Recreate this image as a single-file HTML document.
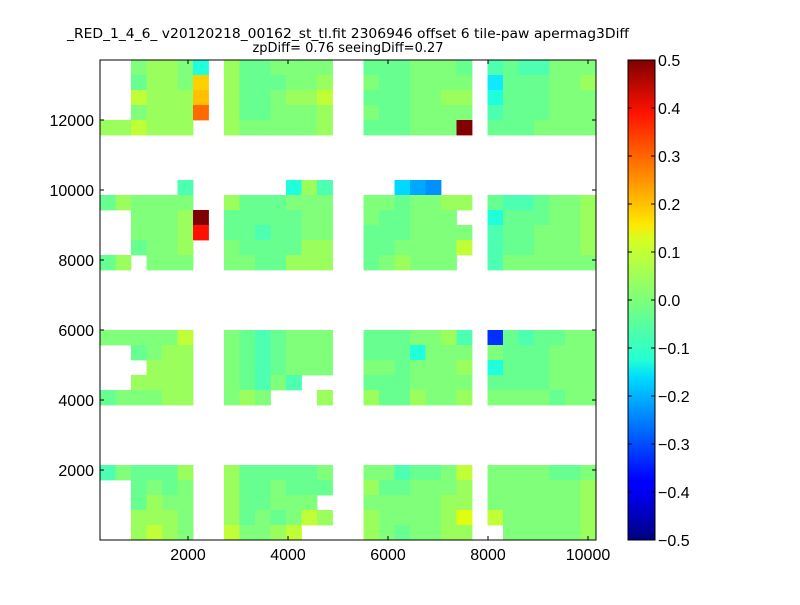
<!DOCTYPE html>
<html><head><meta charset="utf-8"><style>
body{margin:0;background:#fff;width:800px;height:600px;overflow:hidden;font-family:"Liberation Sans",sans-serif}
</style></head><body>
<svg id="s" width="800" height="600" xmlns="http://www.w3.org/2000/svg" font-family="Liberation Sans, sans-serif">
<defs><linearGradient id="jet" x1="0" y1="1" x2="0" y2="0">
<stop offset="0" stop-color="#000080"/><stop offset="0.11" stop-color="#0000ff"/><stop offset="0.125" stop-color="#0000ff"/>
<stop offset="0.34" stop-color="#00dcff"/><stop offset="0.375" stop-color="#23ffd4"/><stop offset="0.5" stop-color="#7dff7a"/>
<stop offset="0.625" stop-color="#d4ff23"/><stop offset="0.66" stop-color="#ffe600"/><stop offset="0.89" stop-color="#ff1200"/>
<stop offset="1" stop-color="#800000"/></linearGradient>
<clipPath id="cp"><rect x="100" y="60" width="496" height="480"/></clipPath></defs>
<rect width="800" height="600" fill="#fff"/>
<g id="cells" clip-path="url(#cp)"></g>
<rect x="100" y="60" width="496" height="480" fill="none" stroke="#000" stroke-width="1"/>
<g id="ticks" stroke="#000" stroke-width="1"></g>
<g font-size="16" fill="#000">
<text x="94" y="126" text-anchor="end">12000</text>
<text x="94" y="196" text-anchor="end">10000</text>
<text x="94" y="266" text-anchor="end">8000</text>
<text x="94" y="336" text-anchor="end">6000</text>
<text x="94" y="406" text-anchor="end">4000</text>
<text x="94" y="476" text-anchor="end">2000</text>
<text x="188" y="560" text-anchor="middle">2000</text>
<text x="288" y="560" text-anchor="middle">4000</text>
<text x="388" y="560" text-anchor="middle">6000</text>
<text x="488" y="560" text-anchor="middle">8000</text>
<text x="588" y="560" text-anchor="middle">10000</text>
</g>
<g font-size="13" fill="#000" text-anchor="middle" font-family="DejaVu Sans, sans-serif">
<text x="348" y="38" textLength="562" lengthAdjust="spacingAndGlyphs">_RED_1_4_6_ v20120218_00162_st_tl.fit 2306946 offset 6 tile-paw apermag3Diff</text>
<text x="348" y="52">zpDiff= 0.76 seeingDiff=0.27</text>
</g>
<rect x="628" y="60" width="27" height="480" fill="url(#jet)" stroke="#000" stroke-width="1"/>
<g id="cb" font-size="16" fill="#000"></g>
</svg>
<script>
var C={a:'#66ff90',b:'#80ff7a',c:'#9aff5d',d:'#c0ff38',t:'#4dffb0',C:'#20ffdc',Z:'#10e8ff',R:'#800000',r:'#ff1000',o:'#ff6a00',y:'#ffc000',Y:'#ffd000',K:'#00d8ff',L:'#00a8ff',M:'#0090ff',N:'#0030ff',E:'#e0ff10'};
var rows={
0:"..bccbC.caabbbb..aaabbba.tattbbb",
1:"..accbY.caaabbc..baabbbb.Zaaabbc",
2:"..dcccy.caabccd..aaabbcc.Caaabbb",
3:"..bccco.caabbbc..baabbbb.taaabbb",
4:"ccdccc..cbbbbbc..aaabbbR.aaabbbb",
8:".....t......Cct....KLM..........",
9:"acbbbb..caaabbb..bbabbcc.attabbc",
10:"..bbbcR.aaaaabb..baabbb..Caaabbc",
11:"..bbbcr.aataabb..aaabbbb.taabbbc",
12:"..abbc..baaaacc..aabbbbd.taabbbc",
13:"ac.bbb..bbaaccc..abcbbb..tbbbbbb",
18:"bbbbbd..batabbb..aaabbct.Nataabb",
19:"..abcc..batabbb..aaaCbbb.baaabbb",
20:"...ccc..batabbb..bbabbbc.Caaabbb",
21:"..cccc..batbt....aaabbbb.aaaabbb",
22:"abbbcc..bcb...c..caacbbc.bbbbabb",
27:"tbaaac..caaaaab..bbtaabd.bbbbaab",
28:"..abab..caabaaa..caabbbc.bbbbbbc",
29:"..acbb..caabbb...bbbbbcc.bbbbbbc",
30:"..cccb..cababdc..cbbbbcE.dbbbbbc",
31:"..cdcb..dbbcd....cbabbcc..bbbbbc"};
var ns="http://www.w3.org/2000/svg",g=document.getElementById('cells');
for(var r in rows){var s=rows[r];for(var i=0;i<32;i++){var ch=s[i];if(ch=='.')continue;
var e=document.createElementNS(ns,'rect');e.setAttribute('x',100+i*15.5);e.setAttribute('y',60+r*15);
e.setAttribute('width',15.9);e.setAttribute('height',15.4);e.setAttribute('fill',C[ch]);g.appendChild(e);}}
var t=document.getElementById('ticks'),h='';
[188,288,388,488,588].forEach(function(x){h+='<line x1="'+x+'" y1="540" x2="'+x+'" y2="536"/><line x1="'+x+'" y1="60" x2="'+x+'" y2="64"/>';});
[120,190,260,330,400,470].forEach(function(y){h+='<line x1="100" y1="'+y+'" x2="104" y2="'+y+'"/><line x1="596" y1="'+y+'" x2="592" y2="'+y+'"/>';});
t.innerHTML=h;
var cb=document.getElementById('cb'),labs=['0.5','0.4','0.3','0.2','0.1','0.0','\u22120.1','\u22120.2','\u22120.3','\u22120.4','\u22120.5'],hh='';
for(var k=0;k<11;k++){var y=60+k*48;hh+='<line x1="628" y1="'+y+'" x2="632" y2="'+y+'" stroke="#000"/><line x1="655" y1="'+y+'" x2="651" y2="'+y+'" stroke="#000"/><text x="658" y="'+(y+6)+'">'+labs[k]+'</text>';}
cb.innerHTML=hh;
</script>
</body></html>
